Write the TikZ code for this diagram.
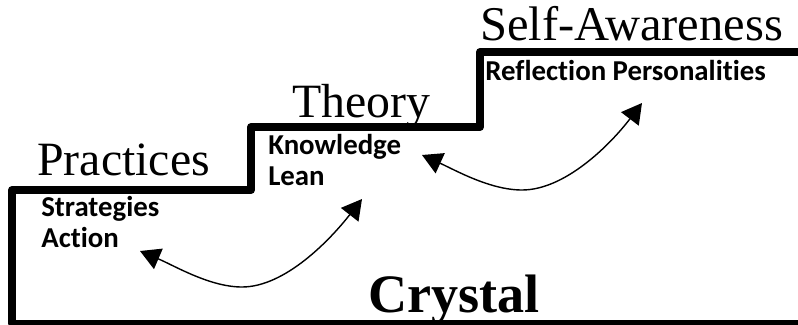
\documentclass[tikz,border=0pt]{standalone}
\usepackage{fontspec}
\setmainfont{Liberation Serif}
\newfontfamily\labelfont[Ligatures=NoCommon]{Carlito}
\usetikzlibrary{arrows.meta}

\begin{document}
\begin{tikzpicture}[
  x=0.025cm, y=-0.025cm,  stair/.style={line width=5.6pt,line join=round},  level/.style={anchor=base west,inner sep=0pt,font=\fontsize{34}{40}\selectfont},  item/.style={anchor=base west,inner sep=0pt,align=left,font=\labelfont\bfseries\fontsize{20.5}{21.5}\selectfont},  link/.style={line width=1pt,{Triangle[length=0.5cm,width=0.55cm]}-{Triangle[length=0.5cm,width=0.55cm]}}
]
  \useasboundingbox (0,0) rectangle (798,324);
  \draw[stair] (798,323.5) -- (12,323.5) -- (12,190) -- (251,190) -- (251,127) -- (480,127) -- (480,52) -- (798,52);
  \node[level] (practices) at (37,175) {Practices};
  \node[level] (theory) at (292,117) {Theory};
  \node[level,font=\fontsize{34.5}{40}\selectfont] (self) at (480,40) {Self-Awareness};
  \node[anchor=base west,inner sep=0pt,font=\bfseries\fontsize{38.5}{44}\selectfont] (crystal) at (368,312) {Crystal};
  \node[item] (strategies) at (41,247) {Strategies\\Action};
  \node[item] (knowledge) at (268,185) {Knowledge\\Lean};
  \node[item] (reflection) at (485,80) {Reflection Personalities};
  \coordinate (a1) at (140,251);
  \coordinate (m1) at (242,287);
  \coordinate (b1) at (362,199);
  \coordinate (a2) at (422,155);
  \coordinate (m2) at (522,190);
  \coordinate (b2) at (642,103);
  \draw[link] (a1) .. controls (175,266) and (210,287) .. (m1) .. controls (285,287) and (330,240) .. (b1);
  \draw[link] (a2) .. controls (455,170) and (490,190) .. (m2) .. controls (565,190) and (610,145) .. (b2);
\end{tikzpicture}
\end{document}
